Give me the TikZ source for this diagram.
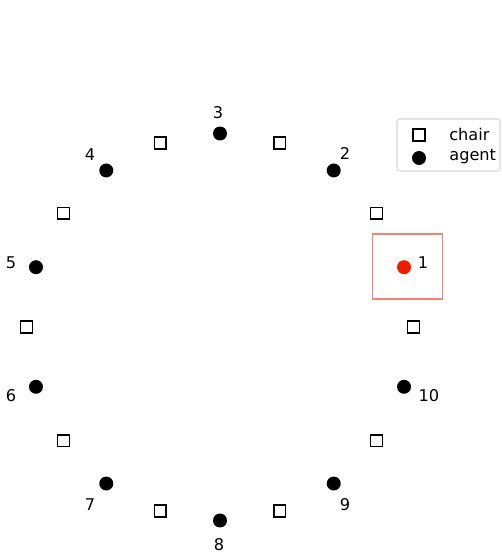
\documentclass[tikz,border=0pt]{standalone}
\usepackage{fontspec}
\setmainfont{DejaVu Sans}
\usetikzlibrary{positioning}
\definecolor{agentred}{RGB}{240,30,0}
\definecolor{salmon}{RGB}{250,128,114}

\begin{document}
\begin{tikzpicture}[
  x=0.02cm, y=0.02cm,
  agent/.style={circle, fill=black, inner sep=0pt, minimum size=2.8mm},
  chair/.style={rectangle, draw=black, line width=0.85pt, inner sep=0pt, minimum size=2.35mm},
  num/.style={inner sep=0pt, font=\fontsize{9.2}{11}\selectfont},
  focus/.style={rectangle, draw=salmon, line width=0.85pt, minimum width=1.4cm, minimum height=1.3cm},
  legendbox/.style={rectangle, rounded corners=1.5pt, draw=black!15, line width=0.6pt, minimum width=2.06cm, minimum height=1.04cm}
]
\useasboundingbox (0,0) rectangle (502,552);

\begin{scope}[shift={(220,225)}]
% agents
\node[agent, fill=agentred] (a1) at (18:193.5) {};
\node[agent] (a2) at (54:193.5) {};
\node[agent] (a3) at (90:193.5) {};
\node[agent] (a4) at (126:193.5) {};
\node[agent] (a5) at (162:193.5) {};
\node[agent] (a6) at (198:193.5) {};
\node[agent] (a7) at (234:193.5) {};
\node[agent] (a8) at (270:193.5) {};
\node[agent] (a9) at (306:193.5) {};
\node[agent] (a10) at (342:193.5) {};

% chairs
\node[chair] (c0) at (0:193.5) {};
\node[chair] (c1) at (36:193.5) {};
\node[chair] (c2) at (72:193.5) {};
\node[chair] (c3) at (108:193.5) {};
\node[chair] (c4) at (144:193.5) {};
\node[chair] (c5) at (180:193.5) {};
\node[chair] (c6) at (216:193.5) {};
\node[chair] (c7) at (252:193.5) {};
\node[chair] (c8) at (288:193.5) {};
\node[chair] (c9) at (324:193.5) {};

% agent numbers
\node[num] (l1) at (203,64) {1};
\node[num] (l2) at (125,173) {2};
\node[num] (l3) at (-2,214) {3};
\node[num] (l4) at (-130,172) {4};
\node[num] (l5) at (-209,64) {5};
\node[num] (l6) at (-209,-69) {6};
\node[num] (l7) at (-130,-178) {7};
\node[num] (l8) at (-1,-218) {8};
\node[num] (l9) at (125,-178) {9};
\node[num] (l10) at (209,-69) {10};
\end{scope}

% highlight round agent 1
\node[focus] (hl) at (407.3,285.3) {};

% legend
\node[legendbox] (leg) at (448.5,407) {};
\node[chair] (legchair) at (419,417) {};
\node[agent] (legagent) at (419,394) {};
\node[num, anchor=west] (legchairtxt) at (449,418) {chair};
\node[num, anchor=west] (legagenttxt) at (449,395) {agent};

\end{tikzpicture}
\end{document}
